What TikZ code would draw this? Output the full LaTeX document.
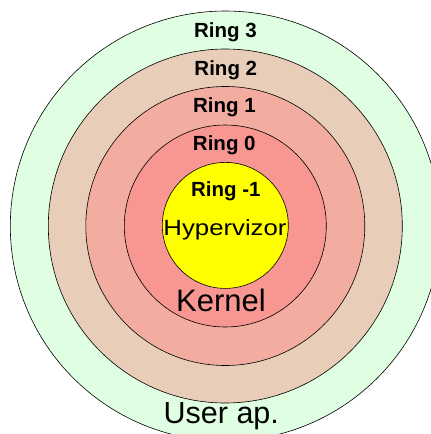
\documentclass[tikz,border=0pt]{standalone}
\usepackage{fontspec}
\setmainfont{Liberation Sans}
\definecolor{ringthree}{RGB}{224,255,226}
\definecolor{ringtwo}{RGB}{232,206,185}
\definecolor{ringone}{RGB}{242,172,160}
\definecolor{ringzero}{RGB}{248,150,145}
\definecolor{ringminus}{RGB}{255,255,0}
\tikzset{
  ringdisc/.style={circle, draw=black, line width=0.6pt, inner sep=0pt, outer sep=0pt},
  ringlabel/.style={anchor=base, inner sep=0pt, font=\fontsize{20.5}{24}\selectfont\bfseries},
  biglabel/.style={anchor=base, inner sep=0pt, font=\fontsize{31}{36}\selectfont},
}
\begin{document}
\begin{tikzpicture}[x=1pt,y=1pt]
\useasboundingbox (0,0) rectangle (431,-434);
\clip (0,0) rectangle (431,-434);
\fill[white] (0,0) rectangle (431,-434);
\coordinate (c) at (225.3,-226);
\node[ringdisc, fill=ringthree, minimum size=430] (r3) at (c) {};
\node[ringdisc, fill=ringtwo, minimum size=354] (r2) at (c) {};
\node[ringdisc, fill=ringone, minimum size=279] (r1) at (c) {};
\node[ringdisc, fill=ringzero, minimum size=202] (r0) at (c) {};
\node[ringdisc, fill=ringminus, minimum size=126] (rm) at (225.3,-225.4) {};
\node[ringlabel] (t3) at (225.5,-37.3) {Ring 3};
\node[ringlabel] (t2) at (225.8,-75.5) {Ring 2};
\node[ringlabel] (t1) at (224.5,-112.8) {Ring 1};
\node[ringlabel] (t0) at (224.3,-150) {Ring 0};
\node[ringlabel] (tm) at (225.8,-196.7) {Ring -1};
\node[anchor=base, inner sep=0pt, font=\fontsize{22}{26}\selectfont] (hv) at (225,-235) {\scalebox{1.17}[1]{Hypervizor}};
\node[biglabel] (kn) at (221,-311.5) {Kernel};
\node[biglabel, font=\fontsize{30.5}{35}\selectfont] (ua) at (221.3,-423.3) {User ap.};
\end{tikzpicture}
\end{document}
